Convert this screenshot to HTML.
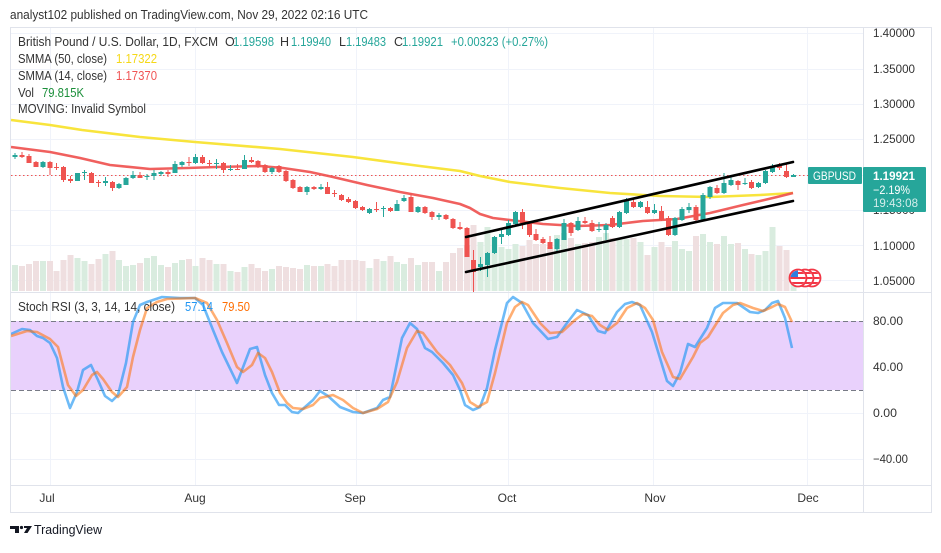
<!DOCTYPE html>
<html><head><meta charset="utf-8">
<style>
html,body{margin:0;padding:0;background:#fff;}
body{width:941px;height:548px;overflow:hidden;}
svg text{font-family:"Liberation Sans",Arial,sans-serif;}
</style></head>
<body>
<svg width="941" height="548" viewBox="0 0 941 548" xmlns="http://www.w3.org/2000/svg">
<rect x="0" y="0" width="941" height="548" fill="#fff"/>
<!-- header -->
<text x="10" y="19" font-size="12.5" fill="#333" textLength="358" lengthAdjust="spacingAndGlyphs">analyst102 published on TradingView.com, Nov 29, 2022 02:16 UTC</text>

<!-- grid main pane -->
<g stroke="#f0f3fa" stroke-width="1">
<path d="M11 33.5H863M11 69.5H863M11 104.5H863M11 139.5H863M11 175.5H863M11 210.5H863M11 245.5H863M11 280.5H863"/>
<path d="M50.5 28V485M195.5 28V485M356.5 28V485M508.5 28V485M653.5 28V485M807.5 28V485"/>
<path d="M11 367.5H863M11 413.5H863M11 459.5H863"/>
</g>

<!-- volume -->
<path fill="#d9ecdf" d="M12 265h6V291h-6zM40 261h6V291h-6zM74.5 258h6V291h-6zM81.5 261h6V291h-6zM102.5 254h6V291h-6zM116 260h6V291h-6zM123 266h6V291h-6zM130 265h6V291h-6zM144 258h6V291h-6zM151 256h6V291h-6zM158 265h6V291h-6zM172 263h6V291h-6zM179 260h6V291h-6zM192.5 266h6V291h-6zM213.5 264h6V291h-6zM227.5 271h6V291h-6zM241.5 267h6V291h-6zM269 269h6V291h-6zM304 265h6V291h-6zM318 266h6V291h-6zM366.5 268h6V291h-6zM380.5 261h6V291h-6zM394 262h6V291h-6zM401 264h6V291h-6zM415 265h6V291h-6zM436 271h6V291h-6zM477.5 242h6V291h-6zM484.5 227h6V291h-6zM491.5 237h6V291h-6zM498.5 247h6V291h-6zM505.5 249h6V291h-6zM512.5 244h6V291h-6zM554 235h6V291h-6zM561 233h6V291h-6zM575 244h6V291h-6zM596 237h6V291h-6zM603 233h6V291h-6zM616.5 238h6V291h-6zM623.5 239h6V291h-6zM637.5 242h6V291h-6zM651.5 247h6V291h-6zM672 241h6V291h-6zM679 249h6V291h-6zM686 251h6V291h-6zM700 234h6V291h-6zM707 242h6V291h-6zM721 236h6V291h-6zM728 244h6V291h-6zM742 249h6V291h-6zM755.5 255h6V291h-6zM762.5 251h6V291h-6zM769.5 227h6V291h-6zM790.5 283h6V291h-6z"/>
<path fill="#efdfe0" d="M19 266h6V291h-6zM26 264h6V291h-6zM33 261h6V291h-6zM47 261h6V291h-6zM53.5 271h6V291h-6zM60.5 260h6V291h-6zM67.5 255h6V291h-6zM88.5 264h6V291h-6zM95.5 259h6V291h-6zM109.5 251h6V291h-6zM137 263h6V291h-6zM165 267h6V291h-6zM186 259h6V291h-6zM199.5 258h6V291h-6zM206.5 260h6V291h-6zM220.5 264h6V291h-6zM234.5 272h6V291h-6zM248.5 264h6V291h-6zM255 268h6V291h-6zM262 271h6V291h-6zM276 266h6V291h-6zM283 267h6V291h-6zM290 268h6V291h-6zM297 269h6V291h-6zM311 266h6V291h-6zM324.5 264h6V291h-6zM331.5 266h6V291h-6zM338.5 260h6V291h-6zM345.5 260h6V291h-6zM352.5 260h6V291h-6zM359.5 261h6V291h-6zM373.5 259h6V291h-6zM387.5 256h6V291h-6zM408 258h6V291h-6zM422 262h6V291h-6zM429 262h6V291h-6zM443 262h6V291h-6zM450 253h6V291h-6zM457 248h6V291h-6zM464 245h6V291h-6zM470.5 225h6V291h-6zM519.5 246h6V291h-6zM526.5 240h6V291h-6zM533 244h6V291h-6zM540 244h6V291h-6zM547 247h6V291h-6zM568 238h6V291h-6zM582 243h6V291h-6zM589 242h6V291h-6zM609.5 238h6V291h-6zM630.5 238h6V291h-6zM644.5 255h6V291h-6zM658.5 242h6V291h-6zM665.5 247h6V291h-6zM693 236h6V291h-6zM714 244h6V291h-6zM735 243h6V291h-6zM748.5 254h6V291h-6zM776.5 246h6V291h-6zM783.5 250h6V291h-6z"/>

<!-- price line -->
<line x1="11" y1="175.5" x2="808" y2="175.5" stroke="#ef5350" stroke-width="1" stroke-dasharray="1.5 2.5"/>

<!-- SMMA 50 yellow -->
<polyline fill="none" stroke="#f8e43c" stroke-width="2.6" stroke-linejoin="round" points="11,120 50,125 82,130 140,137 195,142 280,149 353,157 420,166 460,171 480,176 510,182 560,188 610,193 660,196 710,197 760,195 793,193"/>
<!-- SMMA 14 red -->
<polyline fill="none" stroke="#ef5350" stroke-opacity="0.92" stroke-width="2.6" stroke-linejoin="round" points="11,147 50,152 80,158 110,165 150,169 187,168 217,167 260,166 283,168 310,172 333,177 367,185 400,192 433,198 460,204 470,208 480,214 493,218 510,220 543,224 577,226 610,225 643,221 677,219 710,213 743,205 777,197 793,193"/>

<!-- wicks -->
<path stroke="#26a69a" stroke-width="1" fill="none" d="M15 153V159M43 161V168M77.5 173V181M84.5 170V180M105.5 177V186M119 183V189M126 177V185M133 171V179M147 174V180M154 170V180M161 171V176M175 161V173M182 161V167M195.5 154V164M216.5 159V169M230.5 165V171M244.5 155V169M272 167V174M307 186V195M321 184V190M369.5 208V214M383.5 206V217M397 200V211M404 195V202M418 206V213M439 213V220M480.5 257V271M487.5 252V277M494.5 236V254M501.5 230V244M508.5 220V236M515.5 211V225M557 238V251M564 219V240M578 217V231M599 222V232M606 223V240M619.5 211V228M626.5 198V214M640.5 201V208M654.5 204V214M675 217V236M682 207V221M689 203V213M703 193V221M710 186V199M724 173V194M731 177V186M745 178V185M758.5 182V188M765.5 170V184M772.5 164V173M793.5 174V177"/>
<path stroke="#ef5350" stroke-width="1" fill="none" d="M22 152V158M29 154V163M36 161V167M50 161V175M56.5 163V170M63.5 166V182M70.5 176V183M91.5 172V183M98.5 180V187M112.5 181V191M140 172V178M168 170V177M189 157V166M202.5 155V164M209.5 160V166M223.5 162V173M237.5 164V170M251.5 157V163M258 160V168M265 164V173M279 165V173M286 170V182M293 179V189M300 186V192M314 186V190M327.5 182V194M334.5 190V197M341.5 194V201M348.5 197V203M355.5 200V209M362.5 206V211M376.5 202V212M390.5 207V212M411 193V212M425 206V214M432 211V220M446 214V220M453 218V229M460 222V230M467 227V257M473.5 250V292M522.5 209V229M529.5 221V237M536 229V241M543 237V244M550 236V249M571 222V236M585 217V224M592 220V232M612.5 216V228M633.5 199V208M647.5 201V214M661.5 206V221M668.5 216V236M696 205V221M717 185V194M738 180V190M751.5 180V189M779.5 163V170M786.5 164V178"/>
<!-- bodies -->
<path fill="#26a69a" d="M12.5 155h5V157h-5zM40.5 162h5V167h-5zM75 173h5V181h-5zM82 172h5V173h-5zM103 181h5V183h-5zM116.5 184h5V188h-5zM123.5 178h5V185h-5zM130.5 175h5V178h-5zM144.5 176h5V177h-5zM151.5 173h5V176h-5zM158.5 172h5V174h-5zM172.5 164h5V173h-5zM179.5 162h5V165h-5zM193 157h5V163h-5zM214 163h5V164h-5zM228 169h5V170h-5zM242 160h5V169h-5zM269.5 168h5V172h-5zM304.5 187h5V192h-5zM318.5 187h5V189h-5zM367 209h5V213h-5zM381 208h5V209h-5zM394.5 204h5V211h-5zM401.5 198h5V201h-5zM415.5 207h5V212h-5zM436.5 215h5V217h-5zM478 264h5V267h-5zM485 253h5V265h-5zM492 237h5V253h-5zM499 234h5V237h-5zM506 223h5V235h-5zM513 212h5V224h-5zM554.5 239h5V249h-5zM561.5 223h5V240h-5zM575.5 221h5V230h-5zM596.5 229h5V230h-5zM603.5 225h5V230h-5zM617 212h5V227h-5zM624 201h5V213h-5zM638 202h5V207h-5zM652 210h5V213h-5zM672.5 218h5V235h-5zM679.5 209h5V220h-5zM686.5 207h5V210h-5zM700.5 195h5V220h-5zM707.5 187h5V197h-5zM721.5 183h5V193h-5zM728.5 180h5V185h-5zM742.5 183h5V184h-5zM756 183h5V187h-5zM763 171h5V183h-5zM770 167h5V172h-5zM791 175h5V177h-5z"/>
<path fill="#ef5350" d="M19.5 155h5V157h-5zM26.5 156h5V163h-5zM33.5 162h5V167h-5zM47.5 162h5V168h-5zM54 167h5V168h-5zM61 167h5V180h-5zM68 179h5V181h-5zM89 173h5V183h-5zM96 182h5V183h-5zM110 182h5V188h-5zM137.5 175h5V178h-5zM165.5 172h5V174h-5zM186.5 162h5V163h-5zM200 157h5V163h-5zM207 163h5V164h-5zM221 163h5V170h-5zM235 169h5V170h-5zM249 160h5V162h-5zM255.5 161h5V167h-5zM262.5 165h5V172h-5zM276.5 166h5V172h-5zM283.5 171h5V181h-5zM290.5 180h5V188h-5zM297.5 187h5V192h-5zM311.5 187h5V189h-5zM325 187h5V194h-5zM332 193h5V194h-5zM339 195h5V200h-5zM346 199h5V202h-5zM353 201h5V208h-5zM360 207h5V210h-5zM374 209h5V210h-5zM388 208h5V211h-5zM408.5 197h5V212h-5zM422.5 207h5V213h-5zM429.5 212h5V217h-5zM443.5 215h5V219h-5zM450.5 219h5V228h-5zM457.5 227h5V229h-5zM464.5 228h5V257h-5zM471 260h5V272h-5zM520 212h5V223h-5zM527 222h5V235h-5zM533.5 234h5V240h-5zM540.5 239h5V243h-5zM547.5 242h5V249h-5zM568.5 223h5V233h-5zM582.5 221h5V223h-5zM589.5 223h5V231h-5zM610 218h5V227h-5zM631 202h5V207h-5zM645 207h5V213h-5zM659 211h5V220h-5zM666 218h5V235h-5zM693.5 207h5V220h-5zM714.5 188h5V193h-5zM735.5 181h5V185h-5zM749 182h5V188h-5zM777 166h5V168h-5zM784 171h5V177h-5z"/>

<!-- channel -->
<g stroke="#000" stroke-width="2.6" stroke-linecap="round">
<line x1="466" y1="237" x2="793" y2="162"/>
<line x1="466" y1="272" x2="793" y2="201"/>
</g>

<!-- flags -->
<defs>
<clipPath id="c3"><circle cx="812" cy="278" r="7.5"/></clipPath>
<clipPath id="c2"><circle cx="805" cy="278" r="7.5"/></clipPath>
<clipPath id="c1"><circle cx="798" cy="278" r="7.5"/></clipPath>
</defs>
<circle cx="812" cy="278" r="8.5" fill="#fff" stroke="#f23645" stroke-width="1.8"/>
<g clip-path="url(#c3)" fill="#f23645"><rect x="803" y="272" width="18" height="2"/><rect x="803" y="277" width="18" height="2"/><rect x="803" y="282" width="18" height="2"/></g>
<circle cx="805" cy="278" r="8.5" fill="#fff" stroke="#f23645" stroke-width="1.8"/>
<g clip-path="url(#c2)" fill="#f23645"><rect x="796" y="272" width="18" height="2"/><rect x="796" y="277" width="18" height="2"/><rect x="796" y="282" width="18" height="2"/></g>
<circle cx="798" cy="278" r="8.5" fill="#fff" stroke="#f23645" stroke-width="1.8"/>
<g clip-path="url(#c1)"><rect x="789" y="272" width="18" height="2" fill="#f23645"/><rect x="789" y="277" width="18" height="2" fill="#f23645"/><rect x="789" y="282" width="18" height="2" fill="#f23645"/><rect x="789" y="269" width="9" height="8" fill="#2f7fe0"/></g>

<!-- legend -->
<g font-size="12.5">
<text x="18" y="46" fill="#333" textLength="200" lengthAdjust="spacingAndGlyphs">British Pound / U.S. Dollar, 1D, FXCM</text>
<text x="225" y="46" fill="#333">O</text>
<text x="233" y="46" fill="#26a69a" textLength="41" lengthAdjust="spacingAndGlyphs">1.19598</text>
<text x="280" y="46" fill="#333">H</text>
<text x="291" y="46" fill="#26a69a" textLength="40" lengthAdjust="spacingAndGlyphs">1.19940</text>
<text x="339" y="46" fill="#333">L</text>
<text x="346" y="46" fill="#26a69a" textLength="40" lengthAdjust="spacingAndGlyphs">1.19483</text>
<text x="394" y="46" fill="#333">C</text>
<text x="402" y="46" fill="#26a69a" textLength="41" lengthAdjust="spacingAndGlyphs">1.19921</text>
<text x="451" y="46" fill="#26a69a" textLength="97" lengthAdjust="spacingAndGlyphs">+0.00323 (+0.27%)</text>
<text x="18" y="63" fill="#333" textLength="89" lengthAdjust="spacingAndGlyphs">SMMA (50, close)</text>
<text x="116" y="63" fill="#f5d818" textLength="41" lengthAdjust="spacingAndGlyphs">1.17322</text>
<text x="18" y="80" fill="#333" textLength="89" lengthAdjust="spacingAndGlyphs">SMMA (14, close)</text>
<text x="116" y="80" fill="#f05454" textLength="41" lengthAdjust="spacingAndGlyphs">1.17370</text>
<text x="18" y="97" fill="#333" textLength="16" lengthAdjust="spacingAndGlyphs">Vol</text>
<text x="42" y="97" fill="#1b8f3a" textLength="42" lengthAdjust="spacingAndGlyphs">79.815K</text>
<text x="18" y="113" fill="#333" textLength="128" lengthAdjust="spacingAndGlyphs">MOVING: Invalid Symbol</text>
</g>

<!-- stoch pane -->
<rect x="11" y="321" width="852" height="69" fill="#e9d1fc"/>
<g stroke="#787b86" stroke-width="1" stroke-dasharray="5 3">
<line x1="11" y1="321.5" x2="863" y2="321.5"/>
<line x1="11" y1="390.5" x2="863" y2="390.5"/>
</g>
<polyline fill="none" stroke="#2196f3" stroke-opacity="0.65" stroke-width="2.6" stroke-linejoin="round" points="11,334 22,329 30,330 37,336 43,338 50,343 57,358 63,387 70,408 77,392 83,370 91,365 98,380 105,396 112,401 118,395 126,363 133,322 140,305 147,302 162,297 180,298 195,298 203,305 213,330 222,352 237,383 250,349 257,347 265,375 272,393 279,405 285,405 292,412 298,413 305,407 313,400 320,391 328,396 340,407 353,412 363,413 377,408 383,400 390,397 402,338 410,323 417,329 425,348 432,352 443,363 453,375 460,390 465,405 473,410 480,407 487,388 495,350 507,303 513,297 522,303 533,323 548,339 557,337 567,323 577,310 588,315 598,331 605,333 617,312 625,304 632,302 640,305 652,332 667,381 673,386 680,373 688,344 695,347 707,328 715,308 723,303 737,303 750,312 758,313 765,310 772,303 778,301 785,318 792,348"/>
<polyline fill="none" stroke="#ff6d00" stroke-opacity="0.55" stroke-width="2.6" stroke-linejoin="round" points="11,336 27,331 37,332 50,339 58,347 68,385 76,396 83,390 92,375 97,372 103,379 112,392 118,397 127,387 133,357 140,330 147,308 157,302 167,299 195,298 207,303 217,320 227,343 237,367 243,372 252,365 258,353 265,358 272,372 280,393 287,403 293,408 303,409 313,405 320,398 333,395 343,400 353,408 363,413 377,409 388,402 397,382 407,348 417,331 423,333 437,352 450,365 462,383 470,402 478,407 487,402 495,373 507,323 515,307 522,302 528,305 540,323 550,333 562,332 575,320 583,314 592,316 600,325 608,330 617,323 627,308 637,303 645,308 653,320 662,352 673,377 680,379 693,357 700,343 708,337 723,313 733,305 740,303 753,308 763,311 772,307 778,304 785,307 792,322"/>
<g font-size="12.5">
<text x="18" y="311" fill="#333" textLength="157" lengthAdjust="spacingAndGlyphs">Stoch RSI (3, 3, 14, 14, close)</text>
<text x="185" y="311" fill="#2196f3" textLength="28" lengthAdjust="spacingAndGlyphs">57.14</text>
<text x="222" y="311" fill="#ff6d00" textLength="28" lengthAdjust="spacingAndGlyphs">79.50</text>
</g>

<!-- borders -->
<g stroke="#e0e3eb" stroke-width="1" fill="none">
<rect x="10.5" y="27.5" width="921" height="485"/>
<line x1="863.5" y1="28" x2="863.5" y2="512"/>
<line x1="11" y1="292.5" x2="931" y2="292.5"/>
<line x1="11" y1="485.5" x2="931" y2="485.5"/>
</g>

<!-- price axis -->
<g font-size="12" fill="#333">
<text x="873" y="37" textLength="42" lengthAdjust="spacingAndGlyphs">1.40000</text>
<text x="873" y="73" textLength="42" lengthAdjust="spacingAndGlyphs">1.35000</text>
<text x="873" y="108" textLength="42" lengthAdjust="spacingAndGlyphs">1.30000</text>
<text x="873" y="143" textLength="42" lengthAdjust="spacingAndGlyphs">1.25000</text>
<text x="873" y="214" textLength="42" lengthAdjust="spacingAndGlyphs">1.15000</text>
<text x="873" y="250" textLength="42" lengthAdjust="spacingAndGlyphs">1.10000</text>
<text x="873" y="285" textLength="42" lengthAdjust="spacingAndGlyphs">1.05000</text>
<text x="873" y="325" textLength="30" lengthAdjust="spacingAndGlyphs">80.00</text>
<text x="873" y="371" textLength="30" lengthAdjust="spacingAndGlyphs">40.00</text>
<text x="873" y="417" textLength="24" lengthAdjust="spacingAndGlyphs">0.00</text>
<text x="873" y="463" textLength="35" lengthAdjust="spacingAndGlyphs">−40.00</text>
</g>
<!-- price labels -->
<rect x="808" y="167" width="54" height="17" rx="1" fill="#26a69a"/>
<text x="813" y="180" font-size="12" fill="#fff" textLength="43" lengthAdjust="spacingAndGlyphs">GBPUSD</text>
<rect x="863" y="167" width="63" height="45" rx="1" fill="#26a69a"/>
<g font-size="12" fill="#fff">
<text x="873" y="180" textLength="42" lengthAdjust="spacingAndGlyphs" font-weight="bold">1.19921</text>
<text x="873" y="194" textLength="37" lengthAdjust="spacingAndGlyphs">−2.19%</text>
<text x="873" y="207" textLength="45" lengthAdjust="spacingAndGlyphs" fill-opacity="0.8">19:43:08</text>
</g>

<!-- time axis -->
<g font-size="12" fill="#333" text-anchor="middle">
<text x="47" y="502">Jul</text>
<text x="195" y="502">Aug</text>
<text x="355" y="502">Sep</text>
<text x="507" y="502">Oct</text>
<text x="655" y="502">Nov</text>
<text x="808" y="502">Dec</text>
</g>

<!-- logo -->
<g fill="#131722">
<path d="M10 526h9v7h-4v-4h-5z"/>
<circle cx="21.5" cy="527.5" r="1.6"/>
<path d="M24 526h8l-4.5 7h-3.5l3-5h-3z"/>
</g>
<text x="34" y="534" font-size="13" fill="#131722" textLength="68" lengthAdjust="spacingAndGlyphs">TradingView</text>
</svg>
</body></html>
